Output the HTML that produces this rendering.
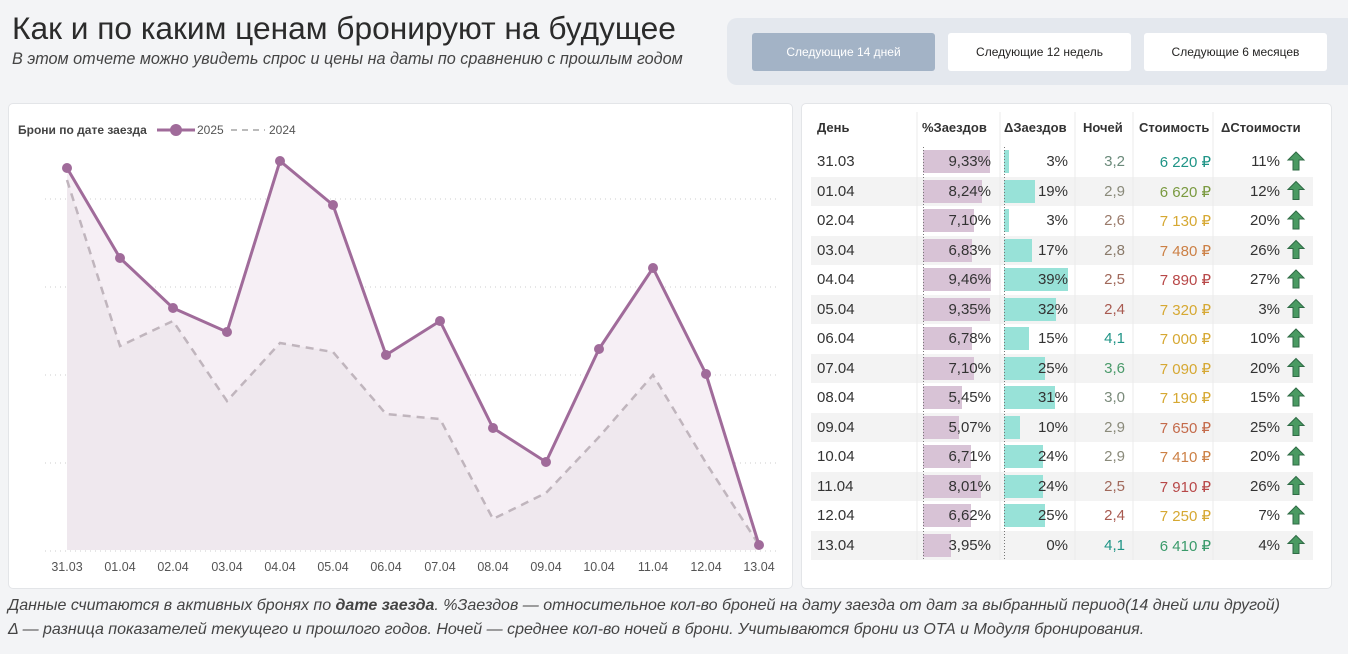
<!DOCTYPE html>
<html><head><meta charset="utf-8"><style>
*{margin:0;padding:0;box-sizing:border-box}
body{width:1348px;height:654px;background:#f3f4f6;font-family:"Liberation Sans","DejaVu Sans",sans-serif;position:relative;overflow:hidden;color:#252423}
.a{position:absolute;white-space:nowrap}
.btn{position:absolute;top:33px;height:38px;width:183px;background:#fff;border-radius:3px;font-size:12px;text-align:center;line-height:38px;color:#252423}
.card{position:absolute;background:#fff;border:1px solid #e3e5e8;border-radius:5px}
.r{position:absolute;left:811px;width:502px;height:29.5px;font-size:15px;color:#333}
.r.g{background:#f3f3f3}
.r span{position:absolute;top:6px}
.pb{position:absolute;left:112px;top:3px;height:23px;background:#d8c3d6}
.db{position:absolute;left:193px;top:3px;height:23px;background:#98e2d8}
.h{position:absolute;top:120px;font-size:13px;font-weight:bold;color:#333}
</style></head><body>
<div class="a" style="left:12px;top:10px;font-size:31.7px;color:#2b2b2b">Как и по каким ценам бронируют на будущее</div>
<div class="a" style="left:12px;top:50px;font-size:16.2px;font-style:italic;color:#444">В этом отчете можно увидеть спрос и цены на даты по сравнению с прошлым годом</div>
<div class="a" style="left:727px;top:18px;width:630px;height:67px;background:#e4e8ee;border-radius:10px"></div>
<div class="btn" style="left:752px;background:#a3b3c6;color:#fff">Следующие 14 дней</div>
<div class="btn" style="left:948px">Следующие 12 недель</div>
<div class="btn" style="left:1144px">Следующие 6 месяцев</div>

<div class="card" style="left:8px;top:103px;width:785px;height:486px"></div>
<div class="card" style="left:801px;top:103px;width:531px;height:486px"></div>

<svg class="a" style="left:0;top:0" width="1348" height="654" font-family="Liberation Sans, sans-serif">
<text x="18" y="134" font-size="12" font-weight="bold" fill="#444">Брони по дате заезда</text>
<line x1="157" y1="130" x2="195" y2="130" stroke="#a06b9a" stroke-width="3"/><circle cx="176" cy="130" r="6" fill="#a06b9a"/>
<text x="197" y="134" font-size="12" fill="#555">2025</text>
<line x1="231" y1="130" x2="265" y2="130" stroke="#bbb" stroke-width="2" stroke-dasharray="6 5"/>
<text x="269" y="134" font-size="12" fill="#555">2024</text>
<g stroke="#ccc" stroke-dasharray="1 4" stroke-width="1">
<line x1="45" y1="199" x2="780" y2="199"/><line x1="45" y1="287" x2="780" y2="287"/><line x1="45" y1="375" x2="780" y2="375"/><line x1="45" y1="463" x2="780" y2="463"/><line x1="45" y1="551" x2="780" y2="551"/></g>
<polygon fill="#f6eff5" points="67,550 67,168 120,258 173,308 227,332 280,161 333,205 386,355 440,321 493,428 546,462 599,349 653,268 706,374 759,545 759,550"/>
<polygon fill="#efe8ee" points="67,550 67,180 120,346 173,321 227,401 280,343 333,352 386,414 440,419 493,519 546,493 599,437 653,375 706,463 759,545 759,550"/>
<polyline fill="none" stroke="#c0b5bd" stroke-width="2.5" stroke-dasharray="8 6" points="67,180 120,346 173,321 227,401 280,343 333,352 386,414 440,419 493,519 546,493 599,437 653,375 706,463 759,545"/>
<polyline fill="none" stroke="#a06b9a" stroke-width="3" points="67,168 120,258 173,308 227,332 280,161 333,205 386,355 440,321 493,428 546,462 599,349 653,268 706,374 759,545"/>
<g fill="#a06b9a"><circle cx="67" cy="168" r="5"/><circle cx="120" cy="258" r="5"/><circle cx="173" cy="308" r="5"/><circle cx="227" cy="332" r="5"/><circle cx="280" cy="161" r="5"/><circle cx="333" cy="205" r="5"/><circle cx="386" cy="355" r="5"/><circle cx="440" cy="321" r="5"/><circle cx="493" cy="428" r="5"/><circle cx="546" cy="462" r="5"/><circle cx="599" cy="349" r="5"/><circle cx="653" cy="268" r="5"/><circle cx="706" cy="374" r="5"/><circle cx="759" cy="545" r="5"/></g>
<g font-size="12.5" fill="#555" text-anchor="middle">
<text x="67" y="571">31.03</text><text x="120" y="571">01.04</text><text x="173" y="571">02.04</text><text x="227" y="571">03.04</text><text x="280" y="571">04.04</text><text x="333" y="571">05.04</text><text x="386" y="571">06.04</text><text x="440" y="571">07.04</text><text x="493" y="571">08.04</text><text x="546" y="571">09.04</text><text x="599" y="571">10.04</text><text x="653" y="571">11.04</text><text x="706" y="571">12.04</text><text x="759" y="571">13.04</text></g>
</svg>

<div class="h" style="left:817px">День</div>
<div class="h" style="left:922px">%Заездов</div>
<div class="h" style="left:1004px">ΔЗаездов</div>
<div class="h" style="left:1083px">Ночей</div>
<div class="h" style="left:1139px">Стоимость</div>
<div class="h" style="left:1221px">ΔСтоимости</div>

<div id="rows">
<div class="r" style="top:147px"><span style="left:6px">31.03</span><div class="pb" style="width:67px"></div><div class="db" style="width:5px"></div><span style="right:322px">9,33%</span><span style="right:245px">3%</span><span style="right:188px;color:#6b8a7a">3,2</span><span style="right:102px;color:#1f9486">6 220 ₽</span><span style="right:33px">11%</span></div>
<div class="r g" style="top:176.5px"><span style="left:6px">01.04</span><div class="pb" style="width:59px"></div><div class="db" style="width:31px"></div><span style="right:322px">8,24%</span><span style="right:245px">19%</span><span style="right:188px;color:#8a8a7a">2,9</span><span style="right:102px;color:#7a9a40">6 620 ₽</span><span style="right:33px">12%</span></div>
<div class="r" style="top:206px"><span style="left:6px">02.04</span><div class="pb" style="width:51px"></div><div class="db" style="width:5px"></div><span style="right:322px">7,10%</span><span style="right:245px">3%</span><span style="right:188px;color:#9a7a6a">2,6</span><span style="right:102px;color:#d6a832">7 130 ₽</span><span style="right:33px">20%</span></div>
<div class="r g" style="top:235.5px"><span style="left:6px">03.04</span><div class="pb" style="width:49px"></div><div class="db" style="width:28px"></div><span style="right:322px">6,83%</span><span style="right:245px">17%</span><span style="right:188px;color:#8a7a6a">2,8</span><span style="right:102px;color:#cc8045">7 480 ₽</span><span style="right:33px">26%</span></div>
<div class="r" style="top:265px"><span style="left:6px">04.04</span><div class="pb" style="width:68px"></div><div class="db" style="width:64px"></div><span style="right:322px">9,46%</span><span style="right:245px">39%</span><span style="right:188px;color:#a0685a">2,5</span><span style="right:102px;color:#b84848">7 890 ₽</span><span style="right:33px">27%</span></div>
<div class="r g" style="top:294.5px"><span style="left:6px">05.04</span><div class="pb" style="width:67px"></div><div class="db" style="width:52px"></div><span style="right:322px">9,35%</span><span style="right:245px">32%</span><span style="right:188px;color:#a85a50">2,4</span><span style="right:102px;color:#d6a832">7 320 ₽</span><span style="right:33px">3%</span></div>
<div class="r" style="top:324px"><span style="left:6px">06.04</span><div class="pb" style="width:49px"></div><div class="db" style="width:25px"></div><span style="right:322px">6,78%</span><span style="right:245px">15%</span><span style="right:188px;color:#1f9486">4,1</span><span style="right:102px;color:#d6a832">7 000 ₽</span><span style="right:33px">10%</span></div>
<div class="r g" style="top:353.5px"><span style="left:6px">07.04</span><div class="pb" style="width:51px"></div><div class="db" style="width:41px"></div><span style="right:322px">7,10%</span><span style="right:245px">25%</span><span style="right:188px;color:#4a9a6a">3,6</span><span style="right:102px;color:#d6a832">7 090 ₽</span><span style="right:33px">20%</span></div>
<div class="r" style="top:383px"><span style="left:6px">08.04</span><div class="pb" style="width:39px"></div><div class="db" style="width:51px"></div><span style="right:322px">5,45%</span><span style="right:245px">31%</span><span style="right:188px;color:#7a8a7a">3,0</span><span style="right:102px;color:#d6a832">7 190 ₽</span><span style="right:33px">15%</span></div>
<div class="r g" style="top:412.5px"><span style="left:6px">09.04</span><div class="pb" style="width:36px"></div><div class="db" style="width:16px"></div><span style="right:322px">5,07%</span><span style="right:245px">10%</span><span style="right:188px;color:#8a8a7a">2,9</span><span style="right:102px;color:#c46a4a">7 650 ₽</span><span style="right:33px">25%</span></div>
<div class="r" style="top:442px"><span style="left:6px">10.04</span><div class="pb" style="width:48px"></div><div class="db" style="width:39px"></div><span style="right:322px">6,71%</span><span style="right:245px">24%</span><span style="right:188px;color:#8a8a7a">2,9</span><span style="right:102px;color:#cc8045">7 410 ₽</span><span style="right:33px">20%</span></div>
<div class="r g" style="top:471.5px"><span style="left:6px">11.04</span><div class="pb" style="width:58px"></div><div class="db" style="width:39px"></div><span style="right:322px">8,01%</span><span style="right:245px">24%</span><span style="right:188px;color:#a0685a">2,5</span><span style="right:102px;color:#b84848">7 910 ₽</span><span style="right:33px">26%</span></div>
<div class="r" style="top:501px"><span style="left:6px">12.04</span><div class="pb" style="width:48px"></div><div class="db" style="width:41px"></div><span style="right:322px">6,62%</span><span style="right:245px">25%</span><span style="right:188px;color:#a85a50">2,4</span><span style="right:102px;color:#d6a832">7 250 ₽</span><span style="right:33px">7%</span></div>
<div class="r g" style="top:530.5px"><span style="left:6px">13.04</span><div class="pb" style="width:28px"></div><div class="db" style="width:0px"></div><span style="right:322px">3,95%</span><span style="right:245px">0%</span><span style="right:188px;color:#1f9486">4,1</span><span style="right:102px;color:#3a9a6a">6 410 ₽</span><span style="right:33px">4%</span></div>
</div>

<svg class="a" style="left:0;top:0" width="1348" height="654">
<g stroke="#ebebeb" stroke-width="1"><line x1="917" y1="112" x2="917" y2="560"/><line x1="1000" y1="112" x2="1000" y2="560"/><line x1="1075" y1="112" x2="1075" y2="560"/><line x1="1133" y1="112" x2="1133" y2="560"/><line x1="1213" y1="112" x2="1213" y2="560"/></g>
<g stroke="#777" stroke-dasharray="1 2" stroke-width="1"><line x1="923.5" y1="147" x2="923.5" y2="560"/><line x1="1004.5" y1="147" x2="1004.5" y2="560"/></g>
<defs><path id="ar" d="M0,-9 L8,-1 L3,-1 L3,9 L-3,9 L-3,-1 L-8,-1 Z" fill="#4a9a62" stroke="#2f6b45" stroke-width="1"/></defs>
<use href="#ar" x="1296" y="161"/><use href="#ar" x="1296" y="190.5"/><use href="#ar" x="1296" y="220"/><use href="#ar" x="1296" y="249.5"/><use href="#ar" x="1296" y="279"/><use href="#ar" x="1296" y="308.5"/><use href="#ar" x="1296" y="338"/><use href="#ar" x="1296" y="367.5"/><use href="#ar" x="1296" y="397"/><use href="#ar" x="1296" y="426.5"/><use href="#ar" x="1296" y="456"/><use href="#ar" x="1296" y="485.5"/><use href="#ar" x="1296" y="515"/><use href="#ar" x="1296" y="544.5"/>
</svg>

<div class="a" style="left:8px;top:597px;font-size:16px;font-style:italic;color:#444">Данные считаются в активных бронях по <b>дате заезда</b>. %Заездов — относительное кол-во броней на дату заезда от дат за выбранный период(14 дней или другой)</div>
<div class="a" style="left:8px;top:621px;font-size:16px;font-style:italic;color:#444">Δ — разница показателей текущего и прошлого годов. Ночей — среднее кол-во ночей в брони. Учитываются брони из ОТА и Модуля бронирования.</div>
</body></html>
